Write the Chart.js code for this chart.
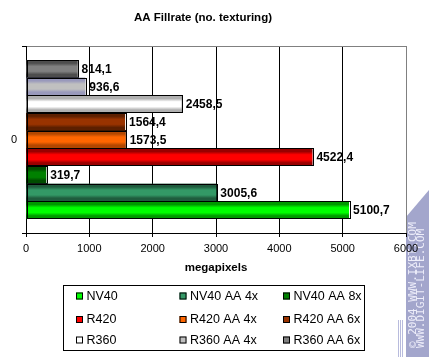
<!DOCTYPE html>
<html>
<head>
<meta charset="utf-8">
<script src="https://cdn.jsdelivr.net/npm/chart.js@4/dist/chart.umd.min.js"></script>
<style>
html,body{margin:0;padding:0;background:#fff;}
#wrap{position:relative;width:429px;height:357px;}
</style>
</head>
<body>
<div id="wrap"><canvas id="c" width="429" height="357"></canvas></div>
<script>
// ---- data ----
const categories = ['0'];
const seriesNames = ['NV40', 'NV40 AA 4x', 'NV40 AA 8x', 'R420', 'R420 AA 4x', 'R420 AA 6x', 'R360', 'R360 AA 4x', 'R360 AA 6x'];
const seriesValues = [5100.7, 3005.6, 319.7, 4522.4, 1573.5, 1564.4, 2458.5, 936.6, 814.1];
const seriesColors = ['#00ff00', '#339966', '#008000', '#ff0000', '#ff6600', '#993300', '#ffffff', '#c0c0c0', '#808080'];
const edgeColors = ['#009900', '#1f5c3d', '#004d00', '#990000', '#b34700', '#5c1f00', '#b0b0b0', '#9999bb', '#4d4d4d'];
const xTickMin = 0, xTickMax = 6000, xTickStep = 1000;
const titleText = 'AA Fillrate (no. texturing)';
const xTitleText = 'megapixels';
const watermark = ['\u00A9 2004 WWW.IXBT.COM', 'WWW.DIGIT-LIFE.COM'];

const FONT = "'Liberation Sans', Arial, sans-serif";

// datasets in reverse so the first series sits at the bottom, like the original
const order = seriesNames.map((_, i) => i).reverse();
const datasets = order.map(i => ({
  label: seriesNames[i],
  data: [seriesValues[i]],
  backgroundColor: seriesColors[i],
  borderColor: '#000',
  borderWidth: 1,
  borderSkipped: false,
  _src: i
}));

function fmt(v) { return v.toFixed(1).replace('.', ','); }

const barStyle = {
  id: 'barStyle',
  afterDatasetsDraw(chart) {
    const ctx = chart.ctx;
    chart.data.datasets.forEach((ds, di) => {
      const meta = chart.getDatasetMeta(di);
      meta.data.forEach((el, k) => {
        const p = el.getProps(['x', 'y', 'base', 'height'], true);
        const x0 = Math.min(p.x, p.base), x1 = Math.max(p.x, p.base);
        const y0 = p.y - p.height / 2, y1 = p.y + p.height / 2;
        const src = ds._src;
        const g = ctx.createLinearGradient(0, y0, 0, y1);
        g.addColorStop(0, edgeColors[src]);
        g.addColorStop(0.18, edgeColors[src]);
        g.addColorStop(0.36, seriesColors[src]);
        g.addColorStop(0.64, seriesColors[src]);
        g.addColorStop(0.82, edgeColors[src]);
        g.addColorStop(1, edgeColors[src]);
        ctx.save();
        ctx.fillStyle = g;
        ctx.fillRect(x0, y0, x1 - x0, y1 - y0);
        ctx.strokeStyle = '#000';
        ctx.lineWidth = 1;
        ctx.strokeRect(Math.round(x0) + 0.5, Math.round(y0) + 0.5, Math.round(x1 - x0), Math.round(y1 - y0) - 1);
        ctx.fillStyle = '#000';
        ctx.font = 'bold 12px ' + FONT;
        ctx.textAlign = 'left';
        ctx.textBaseline = 'middle';
        ctx.fillText(fmt(ds.data[k]), x1 + 4, p.y + 1);
        ctx.restore();
      });
    });
  }
};

const watermarkPlugin = {
  id: 'watermarkPlugin',
  beforeDraw(chart) {
    const ctx = chart.ctx;
    ctx.save();
    ctx.fillStyle = '#a3a6cc';
    ctx.beginPath();
    ctx.moveTo(406, 357);
    ctx.lineTo(406, 217);
    ctx.lineTo(429, 190);
    ctx.lineTo(429, 357);
    ctx.closePath();
    ctx.fill();
    ctx.strokeStyle = '#b8bbdd';
    ctx.lineWidth = 1;
    [398.5, 400.5, 402.5].forEach(x => {
      ctx.beginPath(); ctx.moveTo(x, 320); ctx.lineTo(x, 357); ctx.stroke();
    });
    ctx.fillStyle = '#eeeefa';
    ctx.font = '11px "DejaVu Sans Mono", monospace';
    ctx.textAlign = 'left';
    ctx.textBaseline = 'middle';
    [[413, watermark[0]], [421.5, watermark[1]]].forEach(([x, t]) => {
      ctx.save();
      ctx.translate(x, 348);
      ctx.rotate(-Math.PI / 2);
      ctx.fillText(t, 0, 0);
      ctx.restore();
    });
    ctx.restore();
  }
};

const customLegend = {
  id: 'customLegend',
  afterDraw(chart) {
    const ctx = chart.ctx;
    ctx.save();
    ctx.strokeStyle = '#000';
    ctx.lineWidth = 1;
    ctx.strokeRect(63.5, 285.5, 301, 65);
    const colX = [76, 179.5, 283];
    const rowY = [296, 319.5, 340];
    ctx.font = '12.5px ' + FONT;
    ctx.textBaseline = 'middle';
    ctx.textAlign = 'left';
    seriesNames.forEach((name, i) => {
      const c = i % 3, r = Math.floor(i / 3);
      const bx = colX[c], by = rowY[r] - 3.5;
      ctx.fillStyle = seriesColors[i];
      ctx.fillRect(bx, by, 7, 7);
      ctx.strokeStyle = '#000';
      ctx.strokeRect(bx + 0.5, by + 0.5, 6, 6);
      ctx.fillStyle = '#000';
      ctx.fillText(name, bx + 10.5, rowY[r] + 0.5);
    });
    ctx.restore();
  }
};

new Chart(document.getElementById('c'), {
  type: 'bar',
  data: { labels: categories, datasets },
  options: {
    indexAxis: 'y',
    responsive: false,
    animation: false,
    devicePixelRatio: 1,
    layout: { padding: { left: 0, right: 23, top: 0, bottom: 80 } },
    datasets: { bar: { categoryPercentage: 0.85, barPercentage: 1 } },
    plugins: {
      legend: { display: false },
      tooltip: { enabled: false },
      title: {
        display: true,
        text: titleText,
        color: '#000',
        font: { family: FONT, size: 11.5, weight: 'bold' },
        padding: { top: 11.1, bottom: 21.1 }
      }
    },
    scales: {
      x: {
        min: xTickMin, max: xTickMax,
        ticks: { stepSize: xTickStep, color: '#000', font: { family: FONT, size: 11 }, padding: 5, maxRotation: 0,
                 callback: v => String(v) },
        grid: {
          color: c => (c.tick && c.tick.value === xTickMax) ? '#808080' : '#000',
          tickColor: '#000', tickLength: 4, lineWidth: 1
        },
        border: { color: '#000', width: 1 },
        title: { display: true, text: xTitleText, color: '#000', font: { family: FONT, size: 11.5, weight: 'bold' }, padding: { top: 0, bottom: 2.4 } },
        afterFit: s => { s.height = 44; }
      },
      y: {
        ticks: { color: '#000', font: { family: FONT, size: 11 }, padding: 5 },
        grid: {
          offset: true,
          color: c => c.index === 0 ? '#808080' : '#000',
          tickColor: '#000', tickLength: 4
        },
        border: { color: '#000', width: 1 },
        afterFit: s => { s.width = 26; }
      }
    }
  },
  plugins: [watermarkPlugin, barStyle, customLegend]
});
</script>
</body>
</html>
